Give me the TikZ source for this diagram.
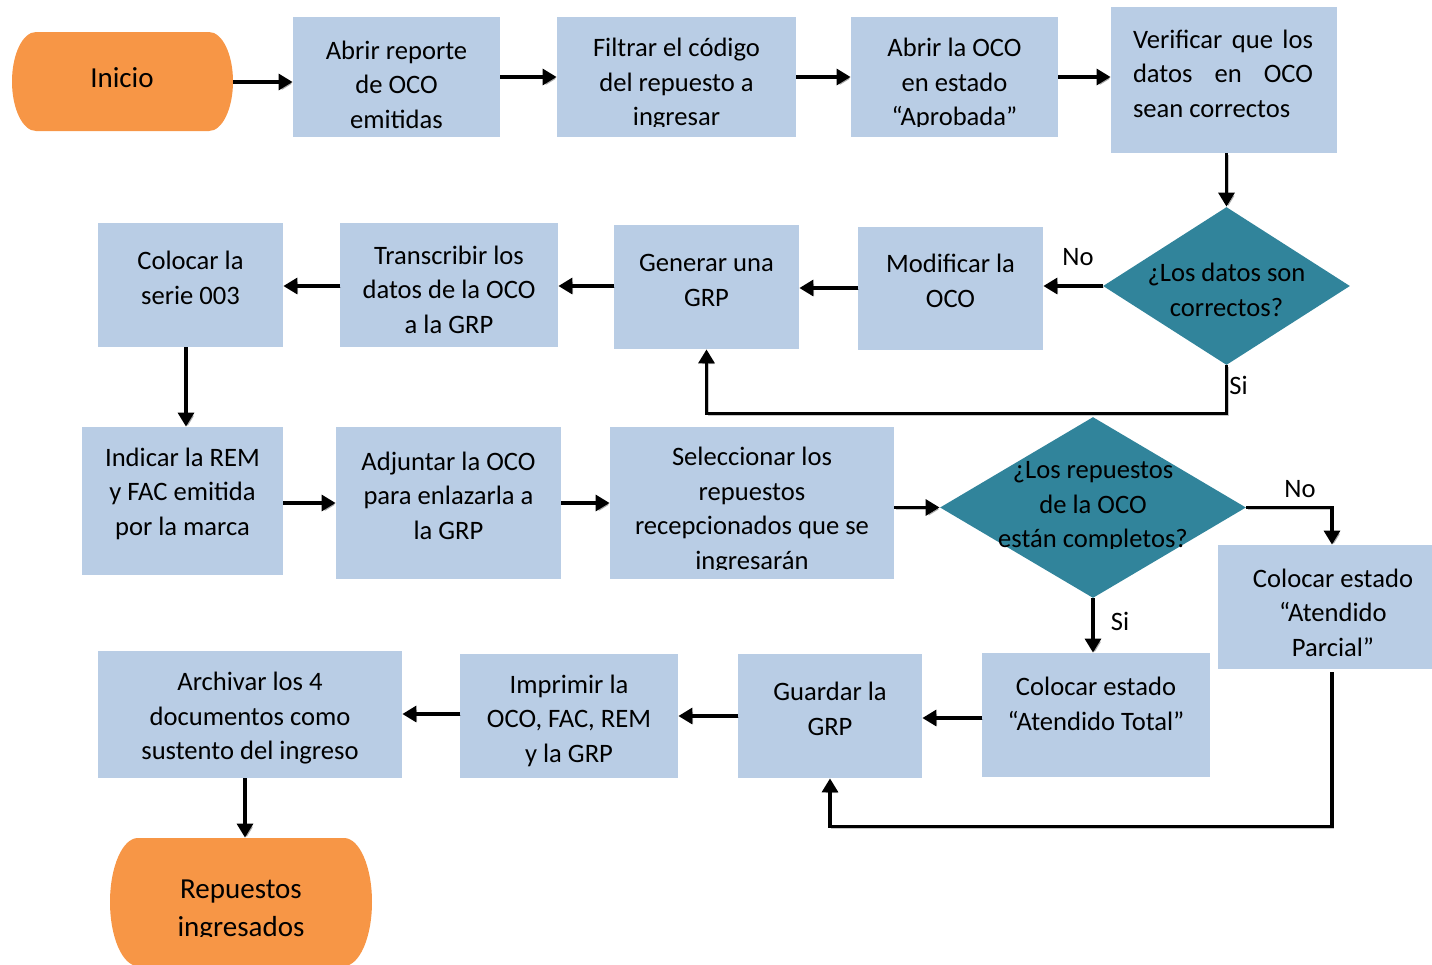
\documentclass[tikz,border=0pt]{standalone}
\usepackage{fontspec}
\setmainfont{Carlito}
\usetikzlibrary{arrows.meta,shapes.geometric,calc}

\definecolor{stepblue}{HTML}{B9CDE5}
\definecolor{termorange}{HTML}{F79646}
\definecolor{decisionteal}{HTML}{31849B}

\newcommand\stepfont{\fontsize{13.3}{17.3}\selectfont}
\newcommand\termfont{\fontsize{14.5}{19}\selectfont}

% process box: name, left, top, right, bottom (pixel grid)
\newcommand\flowbox[5]{%
  \node[stepbox, minimum width={(#4-#2)*0.5pt}, minimum height={(#5-#3)*0.5pt}]
    (#1) at ({(#2+#4)/2},{(#3+#5)/2}) {};}

% terminal with elliptic ends: name, left, top, right, bottom, end radius
\newcommand\terminal[6]{%
  \fill[termorange] ({#2+#6},#3) -- ({#4-#6},#3)
    arc[start angle=90,end angle=-90,x radius={#6*0.5pt},y radius={(#5-#3)*0.25pt}]
    -- ({#2+#6},#5)
    arc[start angle=270,end angle=90,x radius={#6*0.5pt},y radius={(#5-#3)*0.25pt}]
    -- cycle;
  \node[inner sep=0pt, minimum width={(#4-#2)*0.5pt}, minimum height={(#5-#3)*0.5pt}]
    (#1) at ({(#2+#4)/2},{(#3+#5)/2}) {};}

\tikzset{
  stepbox/.style={fill=stepblue, draw=none, inner sep=0pt, rectangle},
  decision/.style={diamond, fill=decisionteal, draw=none, inner sep=0pt},
  steptext/.style={font=\stepfont, align=center, inner sep=0pt, text=black, yshift=-1.3pt},
  termtext/.style={font=\termfont, align=center, inner sep=0pt, text=black, yshift=-1.8pt},
  answer/.style={font=\stepfont, inner sep=0pt},
  link/.style={line width=1.6pt, draw=black,
    preaction={draw=black, opacity=0.22, transform canvas={shift={(0.9pt,-0.9pt)}}}},
  arr/.style={link, -{Triangle[length=7pt,width=8pt]}},
}

\begin{document}
\begin{tikzpicture}[x=0.5pt,y=-0.5pt]
\useasboundingbox (0,0) rectangle (1432,965);

% ---------- shapes ----------
\terminal{ini}{12}{32}{233}{131}{24}
\flowbox{b1}{293}{17}{500}{137}
\flowbox{b2}{557}{17}{796}{137}
\flowbox{b3}{851}{17}{1058}{137}
\flowbox{b4}{1111}{7}{1337}{153}

\node[decision, minimum width=123.5pt, minimum height=79pt] (d1) at (1226.5,286) {};
\flowbox{b5}{858}{227}{1043}{350}
\flowbox{b6}{614}{225}{799}{349}
\flowbox{b7}{340}{223}{558}{347}
\flowbox{b8}{98}{223}{283}{347}

\flowbox{b9}{82}{427}{283}{575}
\flowbox{b10}{336}{427}{561}{579}
\flowbox{b11}{610}{427}{894}{579}
\node[decision, minimum width=153pt, minimum height=90.5pt] (d2) at (1093,507.5) {};
\flowbox{b12}{1218}{545}{1432}{669}

\flowbox{b13}{982}{653}{1210}{777}
\flowbox{b14}{738}{654}{922}{778}
\flowbox{b15}{460}{654}{678}{778}
\flowbox{b16}{98}{651}{402}{778}
\terminal{fin}{110}{838}{372}{966}{28}

% ---------- texts ----------
\node[termtext] (t0) at (122,74) {Inicio};
\node[steptext] (t1) at (396.5,82) {Abrir reporte\\de OCO\\emitidas};
\begin{scope}
  \clip (557,17) rectangle (796,126);
  \node[steptext] (t2) at (676.5,81.5) {Filtrar el código\\del repuesto a\\ingresar};
\end{scope}
\begin{scope}
  \clip (851,17) rectangle (1058,126);
  \node[steptext] (t3) at (954.5,81.5) {Abrir la OCO\\en estado\\“Aprobada”};
\end{scope}
\node[steptext, align=left] (t4) at (1223,71)
  {\hbox to 90pt{Verificar\hfill que\hfill los}\\
   \hbox to 90pt{datos\hfill en\hfill OCO}\\
   sean correctos};

\node[steptext] (t5) at (1226.5,287) {¿Los datos son\\correctos?};
\node[steptext] (t6) at (950.5,278) {Modificar la\\OCO};
\node[steptext] (t7) at (706.5,278) {Generar una\\GRP};
\node[steptext] (t8) at (449,287) {Transcribir los\\datos de la OCO\\a la GRP};
\node[steptext] (t9) at (190.5,275) {Colocar la\\serie 003};

\node[steptext] (t10) at (182.5,491) {Indicar la REM\\y FAC emitida\\por la marca};
\node[steptext] (t11) at (448.5,493) {Adjuntar la OCO\\para enlazarla a\\la GRP};
\begin{scope}
  \clip (610,427) rectangle (894,569);
  \node[steptext] (t12) at (752,508) {Seleccionar los\\repuestos\\recepcionados que se\\ingresarán};
\end{scope}
\begin{scope}
  \clip (940,417) rectangle (1246,548);
  \node[steptext] (t13) at (1093,504) {¿Los repuestos\\de la OCO\\están completos?};
\end{scope}
\node[steptext] (t14) at (1333,610) {Colocar estado\\“Atendido\\Parcial”};

\node[steptext] (t15) at (1096,701) {Colocar estado\\“Atendido Total”};
\node[steptext] (t16) at (830,706) {Guardar la\\GRP};
\node[steptext] (t17) at (569,718) {Imprimir la\\OCO, FAC, REM\\y la GRP};
\node[steptext] (t18) at (250,715.5) {Archivar los 4\\documentos como\\sustento del ingreso};
\begin{scope}
  \clip (110,838) rectangle (372,936);
  \node[termtext] (t19) at (241,907) {Repuestos\\ingresados};
\end{scope}

% ---------- connectors ----------
\draw[arr] (ini.east |- 0,82) -- (b1.west |- 0,82);
\draw[arr] (b1.east |- 0,77) -- (b2.west |- 0,77);
\draw[arr] (b2.east |- 0,77) -- (b3.west |- 0,77);
\draw[arr] (b3.east |- 0,77) -- (b4.west |- 0,77);
\draw[arr] (b4.south -| d1.north) -- (d1.north);

\draw[arr] (d1.west) -- (d1.west -| b5.east);
\draw[arr] (b5.west |- 0,288) -- (b6.east |- 0,288);
\draw[arr] (b6.west |- 0,286) -- (b7.east |- 0,286);
\draw[arr] (b7.west |- 0,286) -- (b8.east |- 0,286);
\draw[arr] (d1.south) |- ($(b6.south)+(0,64)$) -- (b6.south);
\draw[arr] (b8.south -| 186,0) -- (b9.north -| 186,0);

\draw[arr] (b9.east |- 0,503) -- (b10.west |- 0,503);
\draw[arr] (b10.east |- 0,503) -- (b11.west |- 0,503);
\draw[arr] (b11.east |- d2.west) -- (d2.west);
\draw[arr] (d2.east) -| ([xshift=3.5pt]b12.north);
\draw[arr] (d2.south) -- (d2.south |- b13.north);

\draw[arr] (b13.west |- 0,718) -- (b14.east |- 0,718);
\draw[arr] (b14.west |- 0,716) -- (b15.east |- 0,716);
\draw[arr] (b15.west |- 0,714) -- (b16.east |- 0,714);
\draw[arr] ([xshift=3.5pt,yshift=-1.5pt]b12.south) |- ($(b14.south)+(0,48)$) -- (b14.south);
\draw[arr] (b16.south -| 245,0) -- (fin.north -| 245,0);

% ---------- branch answers ----------
\node[answer] (no1) at (1078,257) {No};
\node[answer, anchor=west] (si1) at (1229,385) {Si};
\node[answer] (no2) at (1300,489) {No};
\node[answer] (si2) at (1120,621) {Si};
\end{tikzpicture}
\end{document}
